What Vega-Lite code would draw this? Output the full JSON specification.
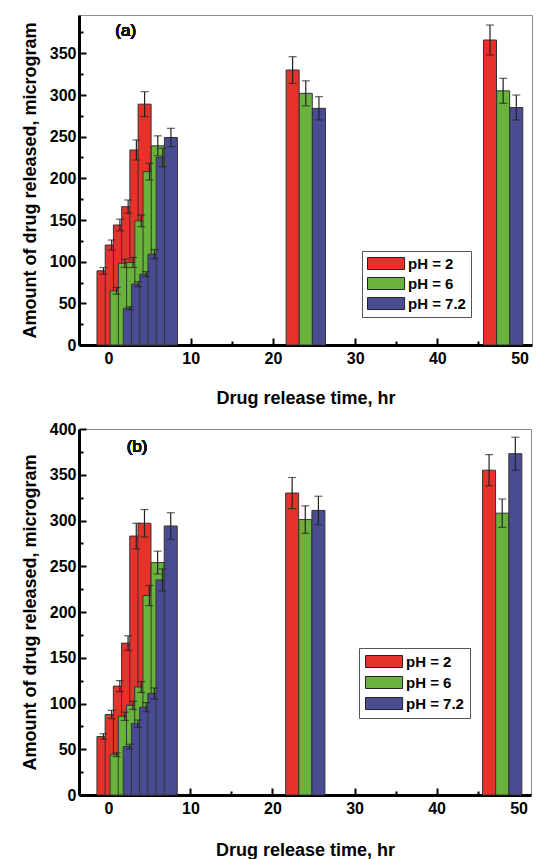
{
  "$schema": "https://vega.github.io/schema/vega-lite/v6.json",
  "padding": {"left": 20, "top": 14, "right": 0, "bottom": 0},
  "background": "white",
  "spacing": 12,
  "config": {
    "font": "Liberation Sans",
    "view": {"stroke": "#8a8a8a", "strokeWidth": 1},
    "axis": {
      "grid": false,
      "domainColor": "black",
      "domainWidth": 3,
      "tickColor": "black",
      "tickWidth": 2,
      "labelFont": "Liberation Sans",
      "labelFontSize": 16,
      "labelFontWeight": "bold",
      "labelColor": "black",
      "labelOverlap": false,
      "titleFont": "Liberation Sans",
      "titleFontSize": 18,
      "titleFontWeight": "bold",
      "titleColor": "black",
      "zindex": 1
    }
  },
  "datasets": {
    "a": [
      {"pH": "pH = 2", "t": 1, "v": 89, "e": 4},
      {"pH": "pH = 2", "t": 2, "v": 120, "e": 6},
      {"pH": "pH = 2", "t": 3, "v": 144, "e": 7},
      {"pH": "pH = 2", "t": 4, "v": 166, "e": 8},
      {"pH": "pH = 2", "t": 5, "v": 234, "e": 12},
      {"pH": "pH = 2", "t": 6, "v": 289, "e": 15},
      {"pH": "pH = 2", "t": 24, "v": 330, "e": 16},
      {"pH": "pH = 2", "t": 48, "v": 366, "e": 18},
      {"pH": "pH = 6", "t": 1, "v": 65, "e": 4},
      {"pH": "pH = 6", "t": 2, "v": 98, "e": 5},
      {"pH": "pH = 6", "t": 3, "v": 99, "e": 6},
      {"pH": "pH = 6", "t": 4, "v": 149, "e": 7},
      {"pH": "pH = 6", "t": 5, "v": 208, "e": 10},
      {"pH": "pH = 6", "t": 6, "v": 239, "e": 12},
      {"pH": "pH = 6", "t": 24, "v": 302, "e": 15},
      {"pH": "pH = 6", "t": 48, "v": 305, "e": 15},
      {"pH": "pH = 7.2", "t": 1, "v": 44, "e": 2},
      {"pH": "pH = 7.2", "t": 2, "v": 73, "e": 3},
      {"pH": "pH = 7.2", "t": 3, "v": 85, "e": 3},
      {"pH": "pH = 7.2", "t": 4, "v": 109, "e": 5.5},
      {"pH": "pH = 7.2", "t": 5, "v": 225, "e": 11},
      {"pH": "pH = 7.2", "t": 6, "v": 249, "e": 11},
      {"pH": "pH = 7.2", "t": 24, "v": 284, "e": 14},
      {"pH": "pH = 7.2", "t": 48, "v": 285, "e": 15}
    ],
    "b": [
      {"pH": "pH = 2", "t": 1, "v": 64, "e": 3},
      {"pH": "pH = 2", "t": 2, "v": 88, "e": 4.5},
      {"pH": "pH = 2", "t": 3, "v": 119, "e": 6},
      {"pH": "pH = 2", "t": 4, "v": 166, "e": 8},
      {"pH": "pH = 2", "t": 5, "v": 283, "e": 14},
      {"pH": "pH = 2", "t": 6, "v": 297, "e": 15},
      {"pH": "pH = 2", "t": 24, "v": 330, "e": 17},
      {"pH": "pH = 2", "t": 48, "v": 355, "e": 17},
      {"pH": "pH = 6", "t": 1, "v": 44, "e": 2},
      {"pH": "pH = 6", "t": 2, "v": 86, "e": 4.5},
      {"pH": "pH = 6", "t": 3, "v": 98, "e": 4.5},
      {"pH": "pH = 6", "t": 4, "v": 118, "e": 6},
      {"pH": "pH = 6", "t": 5, "v": 218, "e": 11},
      {"pH": "pH = 6", "t": 6, "v": 254, "e": 12.5},
      {"pH": "pH = 6", "t": 24, "v": 301, "e": 15},
      {"pH": "pH = 6", "t": 48, "v": 308, "e": 15.5},
      {"pH": "pH = 7.2", "t": 1, "v": 53, "e": 2.5},
      {"pH": "pH = 7.2", "t": 2, "v": 78, "e": 4},
      {"pH": "pH = 7.2", "t": 3, "v": 96, "e": 5},
      {"pH": "pH = 7.2", "t": 4, "v": 111, "e": 6},
      {"pH": "pH = 7.2", "t": 5, "v": 235, "e": 12},
      {"pH": "pH = 7.2", "t": 6, "v": 294, "e": 14.5},
      {"pH": "pH = 7.2", "t": 24, "v": 311, "e": 15.5},
      {"pH": "pH = 7.2", "t": 48, "v": 373, "e": 18}
    ]
  },
  "resolve": {"scale": {"color": "independent"}},
  "vconcat": [
    {
      "width": 453,
      "height": 330,
      "data": {"name": "a"},
      "transform": [
        {"calculate": "datum.t + (datum.pH === 'pH = 2' ? -1.6 : (datum.pH === 'pH = 6' ? 0 : 1.6))", "as": "pos"}
      ],
      "encoding": {
        "x": {
          "field": "pos", "type": "quantitative",
          "scale": {"domain": [-2.97, 50.9], "nice": false, "zero": false},
          "axis": {
            "title": "Drug release time, hr",
            "values": [0, 5, 10, 15, 20, 25, 30, 35, 40, 45, 50],
            "labelExpr": "datum.value % 10 === 0 ? datum.label : ''",
            "tickSize": {"condition": {"test": "datum.value % 10 === 0", "value": -7}, "value": -4},
            "labelPadding": 12,
            "titlePadding": 20
          }
        },
        "y": {
          "field": "v", "type": "quantitative",
          "scale": {"domain": [0, 396], "nice": false},
          "axis": {
            "title": "Amount of drug released, microgram",
            "values": [0, 25, 50, 75, 100, 125, 150, 175, 200, 225, 250, 275, 300, 325, 350, 375],
            "labelExpr": "datum.value % 50 === 0 ? datum.label : ''",
            "tickSize": {"condition": {"test": "datum.value % 50 === 0", "value": -7}, "value": -4},
            "labelPadding": 10,
            "titlePadding": 10
          }
        }
      },
      "layer": [
        {
          "mark": {"type": "bar", "orient": "vertical", "width": 13, "stroke": "#333333", "strokeWidth": 1},
          "encoding": {
            "color": {
              "field": "pH", "type": "nominal",
              "scale": {"domain": ["pH = 2", "pH = 6", "pH = 7.2"], "range": ["#E6322A", "#69B33D", "#494C93"]},
              "legend": {
                "title": null,
                "orient": "none",
                "legendX": 283,
                "legendY": 236,
                "strokeColor": "#555555",
                "fillColor": "white",
                "padding": 5,
                "symbolType": "M-1,-0.86H4.3V0.86H-1Z",
                "symbolSize": 196,
                "symbolStrokeColor": "#222222",
                "symbolStrokeWidth": 1,
                "symbolOpacity": 1,
                "labelFont": "Liberation Sans",
                "labelFontSize": 15,
                "labelFontWeight": "bold",
                "labelColor": "black",
                "labelOffset": 26,
                "rowPadding": 3
              }
            },
            "y": {"field": "v", "type": "quantitative", "stack": null}
          }
        },
        {
          "mark": {"type": "errorbar", "ticks": {"size": 8, "color": "#222222", "thickness": 1.2}, "rule": {"color": "#222222", "strokeWidth": 1.2}},
          "encoding": {
            "y": {"field": "v", "type": "quantitative"},
            "yError": {"field": "e"}
          }
        },
        {
          "mark": {"type": "text", "text": "(a)", "font": "Liberation Sans", "fontSize": 17, "fontWeight": 400, "color": "#111111"},
          "encoding": {
            "x": {"datum": 2.1, "type": "quantitative"},
            "y": {"datum": 377, "type": "quantitative"}
          }
        }
      ]
    },
    {
      "width": 452,
      "height": 366,
      "data": {"name": "b"},
      "transform": [
        {"calculate": "datum.t + (datum.pH === 'pH = 2' ? -1.6 : (datum.pH === 'pH = 6' ? 0 : 1.6))", "as": "pos"}
      ],
      "encoding": {
        "x": {
          "field": "pos", "type": "quantitative",
          "scale": {"domain": [-2.97, 50.9], "nice": false, "zero": false},
          "axis": {
            "title": "Drug release time, hr",
            "values": [0, 5, 10, 15, 20, 25, 30, 35, 40, 45, 50],
            "labelExpr": "datum.value % 10 === 0 ? datum.label : ''",
            "tickSize": {"condition": {"test": "datum.value % 10 === 0", "value": -7}, "value": -4},
            "labelPadding": 12,
            "titlePadding": 22
          }
        },
        "y": {
          "field": "v", "type": "quantitative",
          "scale": {"domain": [0, 400], "nice": false},
          "axis": {
            "title": "Amount of drug released, microgram",
            "values": [0, 25, 50, 75, 100, 125, 150, 175, 200, 225, 250, 275, 300, 325, 350, 375, 400],
            "labelExpr": "datum.value % 50 === 0 ? datum.label : ''",
            "tickSize": {"condition": {"test": "datum.value % 50 === 0", "value": -7}, "value": -4},
            "labelPadding": 10,
            "titlePadding": 10
          }
        }
      },
      "layer": [
        {
          "mark": {"type": "bar", "orient": "vertical", "width": 13, "stroke": "#333333", "strokeWidth": 1},
          "encoding": {
            "color": {
              "field": "pH", "type": "nominal",
              "scale": {"domain": ["pH = 2", "pH = 6", "pH = 7.2"], "range": ["#E6322A", "#69B33D", "#494C93"]},
              "legend": {
                "title": null,
                "orient": "none",
                "legendX": 280,
                "legendY": 219,
                "strokeColor": "#555555",
                "fillColor": "white",
                "padding": 6,
                "symbolType": "M-1,-0.86H4.3V0.86H-1Z",
                "symbolSize": 196,
                "symbolStrokeColor": "#222222",
                "symbolStrokeWidth": 1,
                "symbolOpacity": 1,
                "labelFont": "Liberation Sans",
                "labelFontSize": 15,
                "labelFontWeight": "bold",
                "labelColor": "black",
                "labelOffset": 26,
                "rowPadding": 4
              }
            },
            "y": {"field": "v", "type": "quantitative", "stack": null}
          }
        },
        {
          "mark": {"type": "errorbar", "ticks": {"size": 8, "color": "#222222", "thickness": 1.2}, "rule": {"color": "#222222", "strokeWidth": 1.2}},
          "encoding": {
            "y": {"field": "v", "type": "quantitative"},
            "yError": {"field": "e"}
          }
        },
        {
          "mark": {"type": "text", "text": "(b)", "font": "Liberation Sans", "fontSize": 17, "fontWeight": 400, "color": "#111111"},
          "encoding": {
            "x": {"datum": 3.5, "type": "quantitative"},
            "y": {"datum": 380, "type": "quantitative"}
          }
        }
      ]
    }
  ]
}
